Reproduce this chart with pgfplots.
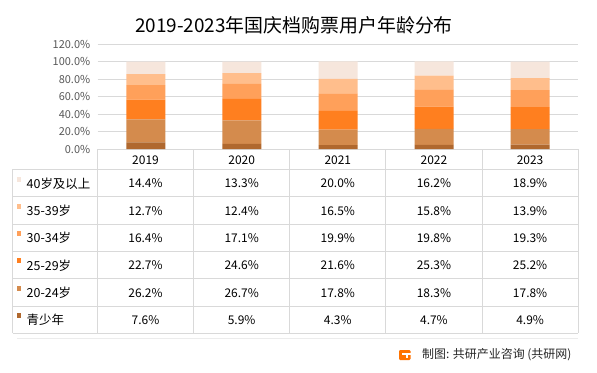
\documentclass[border=0pt]{standalone}
\usepackage{pgfplots}
\pgfplotsset{compat=1.18}
\usepackage{fontspec}
\setmainfont{Noto Sans CJK SC}
\definecolor{c1}{HTML}{B0682E}
\definecolor{c2}{HTML}{D48B4D}
\definecolor{c3}{HTML}{FF7F1F}
\definecolor{c4}{HTML}{FFA05A}
\definecolor{c5}{HTML}{FFBE8C}
\definecolor{c6}{HTML}{F6E6DC}
\definecolor{gridc}{HTML}{D9D9D9}
\definecolor{tickc}{HTML}{595959}
\begin{document}
\begin{tikzpicture}
\path[use as bounding box, fill=white] (0,0) rectangle (597bp,-373bp);
\begin{axis}[
  at={(97.7bp,-149bp)}, anchor=south west,
  scale only axis, width=480.6bp, height=105bp,
  xmin=-0.5, xmax=4.5, ymin=0, ymax=120,
  ybar stacked, bar width=39bp,
  ytick={0,20,...,120}, xtick=\empty,
  yticklabel={\pgfmathprintnumber[fixed,fixed zerofill,precision=1]{\tick}\%},
  /pgf/number format/assume math mode=true,
  yticklabel style={font=\fontsize{11}{12}\selectfont, text=tickc, xshift=-4bp},
  major tick length=0pt,
  axis line style={draw=none},
  ymajorgrids, grid style={gridc, line width=0.75bp},
  clip=false,
]
\addplot[fill=c1, draw=none] coordinates {(0,7.6)(1,5.9)(2,4.3)(3,4.7)(4,4.9)};
\addplot[fill=c2, draw=none] coordinates {(0,26.2)(1,26.7)(2,17.8)(3,18.3)(4,17.8)};
\addplot[fill=c3, draw=none] coordinates {(0,22.7)(1,24.6)(2,21.6)(3,25.3)(4,25.2)};
\addplot[fill=c4, draw=none] coordinates {(0,16.4)(1,17.1)(2,19.9)(3,19.8)(4,19.3)};
\addplot[fill=c5, draw=none] coordinates {(0,12.7)(1,12.4)(2,16.5)(3,15.8)(4,13.9)};
\addplot[fill=c6, draw=none] coordinates {(0,14.4)(1,13.3)(2,20.0)(3,16.2)(4,18.9)};
\end{axis}
\node[font=\fontsize{19}{22}\selectfont] at (294bp,-25bp) {2019-2023年国庆档购票用户年龄分布};
\begin{scope}[x=1bp,y=-1bp]
  % table lines
  \foreach \k in {0,...,6} {
    \draw[gridc, line width=0.75bp] (12.7,169.3+\k*27.33) -- (578.3,169.3+\k*27.33);
  }
  \draw[gridc, line width=0.75bp] (12.7,169.3) -- (12.7,333.3);
  \foreach \xx in {97.7,193.3,289.3,385.7,482.3,578.3} {
    \draw[gridc, line width=0.75bp] (\xx,149) -- (\xx,333.3);
  }
  \draw[gray!15, line width=0.75bp] (17,338.5) -- (578,338.5);
  % header
  \foreach \yr [count=\i from 0] in {2019,2020,2021,2022,2023} {
    \node[font=\fontsize{12}{13}\selectfont] at (145.5+\i*96.15,160) {\yr};
  }
  % row labels
  \foreach \lab/\col [count=\r from 0] in {40岁及以上/c6,35-39岁/c5,30-34岁/c4,25-29岁/c3,20-24岁/c2,青少年/c1} {
    \fill[\col] (16.5,176.5+\r*27.33) rectangle (21,181.5+\r*27.33);
    \node[anchor=west, inner sep=0pt, font=\fontsize{12.5}{14}\selectfont] at (26.5,183.3+\r*27.33) {\lab};
  }
  % values
  \foreach \row [count=\r from 0] in {
      {14.4,13.3,20.0,16.2,18.9},
      {12.7,12.4,16.5,15.8,13.9},
      {16.4,17.1,19.9,19.8,19.3},
      {22.7,24.6,21.6,25.3,25.2},
      {26.2,26.7,17.8,18.3,17.8},
      {7.6,5.9,4.3,4.7,4.9}} {
    \foreach \v [count=\c from 0] in \row {
      \node[font=\fontsize{12}{13}\selectfont] at (145.5+\c*96.15,183.3+\r*27.33) {\v\%};
    }
  }
  % footer
  \fill[orange!90!red, rounded corners=1.2bp] (399,350) rectangle (410.5,360);
  \fill[white] (402,353) rectangle (410.5,355);
  \fill[white] (405.5,355) rectangle (407.5,357.5);
  \node[anchor=west, inner sep=0pt, font=\fontsize{12}{14}\selectfont, text=black!85] at (422,354.5) {制图: 共研产业咨询 (共研网)};
\end{scope}
\end{tikzpicture}
\end{document}
